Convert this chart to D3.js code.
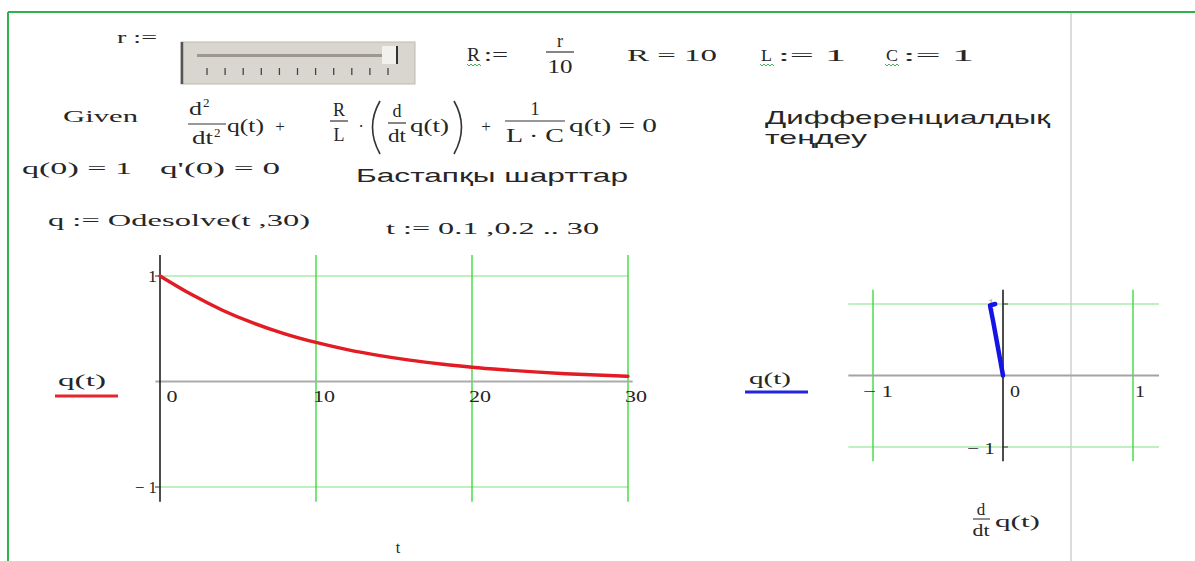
<!DOCTYPE html>
<html>
<head>
<meta charset="utf-8">
<script src="https://cdn.jsdelivr.net/npm/d3@7"></script>
<style>
  html, body { margin: 0; padding: 0; background: #fff; }
  svg { display: block; }
</style>
</head>
<body>
<svg id="sheet" width="1195" height="561"></svg>
<script>
// Solution q(t) of q'' + (R/L) q' + q/(L C) = 0, sampled on t
const tValues = [0, 2, 4, 6, 8, 10, 12, 14, 16, 18, 20, 22, 24, 26, 28, 30];
const qValues = [1.000, 0.826, 0.676, 0.553, 0.452, 0.370, 0.302, 0.247, 0.202, 0.166, 0.135, 0.111, 0.091, 0.074, 0.061, 0.050];

// Phase trajectory: (dq/dt, q)
const dqPhase = [-0.06, -0.10, -0.075, -0.05, -0.025, 0.00];
const qPhase  = [1.00, 0.98, 0.75, 0.50, 0.25, 0.00];

// Tick values
const timeTicks = [0, 10, 20, 30];
const timeTickLabels = ["0", "10", "20", "30"];
const qTicks = [-1, 1];
const qTickLabels = ["\u2212 1", "1"];
const phaseTicks = [-1, 0, 1];
const phaseTickLabels = ["\u2212 1", "0", "1"];

const SERIF = "'Liberation Serif', 'DejaVu Serif', serif";
const SANS = "'Liberation Sans', Arial, sans-serif";
const GRID_V = "#2ed82e";
const GRID_H = "#a8eca8";
const INK = "#262626";

const svg = d3.select("#sheet");

// text helper; len stretches the string to a given width
function txt(g, x, y, s, o = {}) {
  const t = g.append("text")
    .attr("x", x).attr("y", y)
    .attr("font-family", o.font || SERIF)
    .attr("font-size", o.size || 17)
    .attr("fill", o.fill || INK)
    .attr("text-anchor", o.anchor || "start")
    .text(s);
  if (o.len) t.attr("textLength", o.len).attr("lengthAdjust", "spacingAndGlyphs");
  return t;
}
function hline(g, xa, xb, y, col = INK, w = 1) {
  g.append("line").attr("x1", xa).attr("x2", xb).attr("y1", y).attr("y2", y)
    .attr("stroke", col).attr("stroke-width", w);
}
function vline(g, x, ya, yb, col = INK, w = 1) {
  g.append("line").attr("x1", x).attr("x2", x).attr("y1", ya).attr("y2", yb)
    .attr("stroke", col).attr("stroke-width", w);
}
// green wavy underline for redefined names
function squiggle(g, xa, xb, y) {
  let d = `M${xa},${y}`;
  for (let x = xa, k = 0; x < xb; x += 2, k++) d += ` L${x + 2},${y + (k % 2 ? 0 : 2)}`;
  g.append("path").attr("d", d).attr("fill", "none").attr("stroke", "#2fa84a").attr("stroke-width", 0.9);
}

// ---- worksheet frame ----
const frame = svg.append("g");
vline(frame, 1071, 12, 561, "#c4c4c4", 1.2);
hline(frame, 8, 1195, 12, "#2cb34e", 2);
vline(frame, 8, 12, 561, "#2cb34e", 2);

// ---- parameter row ----
const paramRow = svg.append("g");
txt(paramRow, 117, 43, "r :=", { len: 40 });

// slider control
const slider = paramRow.append("g");
slider.append("rect").attr("x", 181).attr("y", 42).attr("width", 234).attr("height", 42)
  .attr("fill", "#d9d6cf").attr("stroke", "#bdb9b0");
vline(slider, 182, 42, 84, "#555", 2.5);
slider.append("rect").attr("x", 197).attr("y", 54).attr("width", 185).attr("height", 3)
  .attr("fill", "#9c988f");
slider.append("rect").attr("x", 382).attr("y", 46).attr("width", 14).attr("height", 18)
  .attr("fill", "#f2f1ee");
vline(slider, 397, 46, 64, "#333", 2);
d3.range(11).forEach(i => vline(slider, 207 + i * 18.1, 68, 75, "#444", 1.3));

txt(paramRow, 467, 61, "R", { size: 18, len: 13 });
squiggle(paramRow, 467, 481, 64);
txt(paramRow, 484, 61, ":=", { size: 18, len: 24 });
txt(paramRow, 560, 47, "r", { anchor: "middle", size: 18 });
hline(paramRow, 546, 574, 52, "#333", 1.2);
txt(paramRow, 560, 73, "10", { anchor: "middle", size: 18, len: 25 });

txt(paramRow, 627, 61, "R = 10", { len: 90 });
txt(paramRow, 761, 61, "L", { len: 11 });
squiggle(paramRow, 760, 774, 64);
txt(paramRow, 778, 61, ":= 1", { len: 68 });
txt(paramRow, 886, 61, "C", { len: 12 });
squiggle(paramRow, 885, 899, 64);
txt(paramRow, 903, 61, ":= 1", { len: 71 });

// ---- differential equation ----
const eq = svg.append("g");
txt(eq, 63, 122, "Given", { len: 75 });
// d^2/dt^2
txt(eq, 189, 115, "d", { size: 18, len: 13 });
txt(eq, 203, 107, "2", { size: 13 });
hline(eq, 188, 226, 124, "#333", 1.2);
txt(eq, 192, 144, "dt", { size: 18, len: 21 });
txt(eq, 214, 137, "2", { size: 13 });
txt(eq, 227, 132, "q(t)", { size: 18, len: 37 });
txt(eq, 280, 132, "+", { anchor: "middle" });
// R/L
txt(eq, 339, 116, "R", { anchor: "middle", size: 18 });
hline(eq, 330, 348, 121, "#333", 1.2);
txt(eq, 339, 141, "L", { anchor: "middle", size: 18 });
txt(eq, 361, 132, "\u00b7", { anchor: "middle" });
// ( d/dt q(t) )
eq.append("path").attr("d", "M380,101 Q365,127 380,154").attr("fill", "none")
  .attr("stroke", "#333").attr("stroke-width", 1.6);
txt(eq, 397, 117, "d", { anchor: "middle", size: 18 });
hline(eq, 388, 406, 123, "#333", 1.2);
txt(eq, 397, 142, "dt", { anchor: "middle", size: 18, len: 18 });
txt(eq, 410, 132, "q(t)", { size: 18, len: 39 });
eq.append("path").attr("d", "M454,101 Q469,127 454,154").attr("fill", "none")
  .attr("stroke", "#333").attr("stroke-width", 1.6);
txt(eq, 486, 132, "+", { anchor: "middle" });
// 1/(L·C)
txt(eq, 535, 115, "1", { anchor: "middle", size: 18 });
hline(eq, 505, 565, 121, "#333", 1.2);
txt(eq, 535, 142, "L \u00b7 C", { anchor: "middle", size: 18, len: 58 });
txt(eq, 569, 132, "q(t) = 0", { size: 18, len: 88 });

txt(eq, 765, 124, "Дифференциалдық", { font: SANS, size: 19, len: 285 });
txt(eq, 765, 144, "теңдеу", { font: SANS, size: 19, len: 102 });

// ---- initial conditions and solver ----
const ic = svg.append("g");
txt(ic, 22, 174, "q(0) = 1", { len: 110 });
txt(ic, 160, 174, "q'(0) = 0", { len: 120 });
txt(ic, 356, 182, "Бастапқы шарттар", { font: SANS, size: 19, len: 272 });
txt(ic, 48, 226, "q := Odesolve(t ,30)", { len: 262 });
txt(ic, 386, 234, "t := 0.1 ,0.2 .. 30", { len: 213 });

// ---- plot 1: q(t) against t ----
const p1 = svg.append("g");
const x1 = d3.scaleLinear().domain([0, 30]).range([160, 628]);
const y1 = d3.scaleLinear().domain([-1, 1]).range([487, 276]);
const y1Top = y1(1.2), y1Bot = y1(-1.14);

qTicks.forEach(v => hline(p1, x1(0), x1(30), y1(v), GRID_H, 1.3));
timeTicks.filter(v => v > 0).forEach(v => vline(p1, x1(v), y1Top, y1Bot, GRID_V, 1.3));
hline(p1, x1(-0.3), x1(30.3), y1(0), "#ababab", 2);
vline(p1, x1(0), y1Top, y1Bot, "#111", 1.5);
qTicks.forEach(v => hline(p1, x1(0) - 5, x1(0), y1(v), "#333", 1));

timeTicks.forEach((v, i) => {
  txt(p1, x1(v) + (v === 0 ? 12 : 8), y1(0) + 20, timeTickLabels[i],
    { anchor: "middle", size: 16, len: v === 0 ? 11 : 22 });
});
qTicks.forEach((v, i) => {
  txt(p1, x1(0) - 3, y1(v) + 6, qTickLabels[i], { anchor: "end", size: 17, len: v < 0 ? 22 : 9 });
});

const line1 = d3.line().x((d, i) => x1(tValues[i])).y(d => y1(d)).curve(d3.curveMonotoneX);
p1.append("path").datum(qValues).attr("d", line1).attr("fill", "none")
  .attr("stroke", "#e21c24").attr("stroke-width", 3.4).attr("stroke-linecap", "round");

txt(p1, 58, 386, "q(t)", { len: 48 });
hline(p1, 55, 118, 396, "#e8242c", 3);
txt(p1, 398, 553, "t", { anchor: "middle", size: 16 });

// ---- plot 2: q(t) against dq/dt ----
const p2 = svg.append("g");
const x2 = d3.scaleLinear().domain([-1, 1]).range([873, 1133]);
const y2 = d3.scaleLinear().domain([-1, 1]).range([447, 304]);
const x2L = x2(-1.19), x2R = x2(1.2), y2Top = y2(1.2), y2Bot = y2(-1.2);

[-1, 1].forEach(v => hline(p2, x2L, x2R, y2(v), GRID_H, 1.3));
[-1, 1].forEach(v => vline(p2, x2(v), y2Top, y2Bot, GRID_V, 1.3));
hline(p2, x2L, x2R, y2(0), "#a4a4a4", 2);
vline(p2, x2(0), y2Top, y2Bot, "#111", 1.5);
[-1, 1].forEach(v => hline(p2, x2(0), x2(0) + 5, y2(v), "#333", 1));

phaseTicks.forEach((v, i) => {
  const x = v < 0 ? x2(v) - 10 : (v === 0 ? x2(v) + 7 : x2(v) + 2);
  txt(p2, x, y2(0) + 21, phaseTickLabels[i], { size: 17, len: v < 0 ? 30 : 10 });
});
txt(p2, x2(0) - 8, y2(-1) + 7, "\u2212 1", { anchor: "end", size: 17, len: 28 });
txt(p2, x2(0) - 8, y2(1) + 6, "1", { anchor: "end", size: 16, fill: "#bbb" });

const line2 = d3.line().x((d, i) => x2(dqPhase[i])).y(d => y2(d));
p2.append("path").datum(qPhase).attr("d", line2).attr("fill", "none")
  .attr("stroke", "#1414e6").attr("stroke-width", 4.5).attr("stroke-linecap", "round")
  .attr("stroke-linejoin", "round");

txt(p2, 749, 384, "q(t)", { len: 42 });
hline(p2, 745, 808, 392, "#2424e0", 3);
// d/dt q(t) axis title
txt(p2, 981, 515, "d", { anchor: "middle" });
hline(p2, 973, 990, 519, "#333", 1.1);
txt(p2, 981, 536, "dt", { anchor: "middle", len: 17 });
txt(p2, 995, 527, "q(t)", { len: 45 });
</script>
</body>
</html>
